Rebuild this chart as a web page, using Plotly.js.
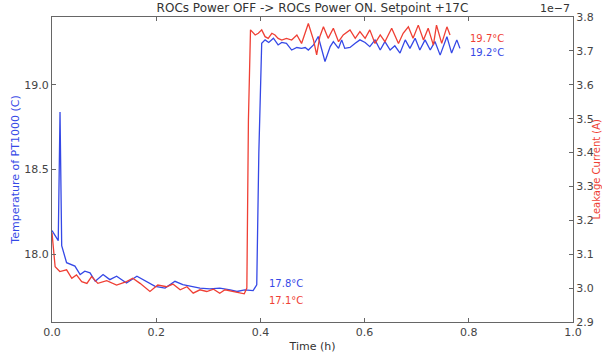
<!DOCTYPE html>
<html>
<head>
<meta charset="utf-8">
<script src="https://cdn.plot.ly/plotly-3.0.1.min.js"></script>
<style>html,body{margin:0;padding:0;background:#fff;}#chart{width:602px;height:358px;}</style>
</head>
<body>
<div id="chart"></div>
<script>
// Temperature of PT1000 (C) vs time (h)
const tempTime = [0.000,0.012,0.0154,0.0186,0.028,0.038,0.044,0.054,0.063,0.073,0.083,0.098,0.111,0.124,0.143,0.163,0.182,0.198,0.217,0.236,0.251,0.265,0.284,0.303,0.322,0.342,0.355,0.370,0.386,0.393,0.397,0.4025,0.409,0.416,0.425,0.434,0.441,0.450,0.460,0.470,0.479,0.486,0.492,0.502,0.511,0.518,0.524,0.534,0.540,0.550,0.556,0.562,0.572,0.582,0.591,0.601,0.610,0.620,0.630,0.639,0.649,0.658,0.668,0.678,0.687,0.697,0.706,0.716,0.726,0.735,0.745,0.758,0.767,0.777,0.783];
const tempValues = [18.14,18.08,18.84,18.05,17.95,17.935,17.93,17.88,17.90,17.89,17.84,17.88,17.85,17.87,17.83,17.87,17.84,17.81,17.80,17.84,17.82,17.81,17.80,17.795,17.80,17.79,17.78,17.79,17.785,17.82,18.6,19.245,19.265,19.25,19.275,19.235,19.25,19.245,19.205,19.22,19.215,19.22,19.205,19.235,19.285,19.205,19.137,19.225,19.255,19.215,19.265,19.215,19.22,19.245,19.265,19.25,19.225,19.265,19.205,19.255,19.205,19.23,19.187,19.265,19.215,19.275,19.205,19.265,19.205,19.255,19.175,19.284,19.187,19.265,19.215];

// Leakage current (A) vs time (h)
const currentTime = [0.000,0.006,0.015,0.028,0.038,0.047,0.057,0.067,0.076,0.088,0.105,0.124,0.143,0.155,0.169,0.188,0.203,0.220,0.232,0.246,0.259,0.271,0.284,0.297,0.310,0.322,0.332,0.345,0.358,0.369,0.374,0.377,0.381,0.390,0.396,0.4025,0.409,0.415,0.422,0.428,0.434,0.441,0.450,0.460,0.470,0.479,0.492,0.502,0.508,0.514,0.521,0.530,0.540,0.550,0.559,0.572,0.582,0.591,0.601,0.610,0.620,0.630,0.639,0.652,0.665,0.674,0.684,0.693,0.703,0.713,0.722,0.732,0.738,0.748,0.758,0.764];
const currentValues = [3.163e-7,3.063e-7,3.049e-7,3.054e-7,3.029e-7,3.039e-7,3.019e-7,3.014e-7,3.034e-7,3.014e-7,3.022e-7,3.009e-7,3.019e-7,3.029e-7,3.014e-7,2.990e-7,3.009e-7,3.004e-7,3.012e-7,2.995e-7,3.004e-7,2.985e-7,2.995e-7,2.990e-7,2.997e-7,2.985e-7,2.995e-7,2.990e-7,2.987e-7,2.983e-7,3.000e-7,3.496e-7,3.762e-7,3.747e-7,3.752e-7,3.762e-7,3.742e-7,3.737e-7,3.752e-7,3.747e-7,3.737e-7,3.732e-7,3.737e-7,3.732e-7,3.747e-7,3.722e-7,3.781e-7,3.732e-7,3.688e-7,3.742e-7,3.771e-7,3.737e-7,3.767e-7,3.727e-7,3.747e-7,3.762e-7,3.737e-7,3.757e-7,3.737e-7,3.762e-7,3.722e-7,3.747e-7,3.727e-7,3.767e-7,3.722e-7,3.752e-7,3.771e-7,3.737e-7,3.776e-7,3.732e-7,3.767e-7,3.717e-7,3.776e-7,3.722e-7,3.771e-7,3.747e-7];

const xTicks = [0, 0.2, 0.4, 0.6, 0.8, 1.0];
const xTickLabels = ['0.0', '0.2', '0.4', '0.6', '0.8', '1.0'];
const tempTicks = [18.0, 18.5, 19.0];
const tempTickLabels = ['18.0', '18.5', '19.0'];
const currentTicks = [2.9e-7, 3.0e-7, 3.1e-7, 3.2e-7, 3.3e-7, 3.4e-7, 3.5e-7, 3.6e-7, 3.7e-7, 3.8e-7];
const currentTickLabels = ['2.9', '3.0', '3.1', '3.2', '3.3', '3.4', '3.5', '3.6', '3.7', '3.8'];

const BLUE = '#3548e6';
const RED = '#ef3f34';
const FONT = 'DejaVu Sans, sans-serif';
const TICKC = '#444';
const LINEC = '#666';

const traces = [
  {x: tempTime, y: tempValues, type: 'scatter', mode: 'lines', line: {color: BLUE, width: 1.3}, yaxis: 'y', hoverinfo: 'skip'},
  {x: currentTime, y: currentValues, type: 'scatter', mode: 'lines', line: {color: RED, width: 1.3}, yaxis: 'y2', hoverinfo: 'skip'}
];

const axisCommon = {ticks: 'inside', ticklen: 4, tickcolor: LINEC, showline: true, linecolor: LINEC, linewidth: 1, showgrid: false, zeroline: false, tickfont: {family: FONT, size: 11, color: TICKC}};

const layout = {
  width: 602, height: 358,
  margin: {l: 52, r: 29, t: 17, b: 36},
  paper_bgcolor: '#fff', plot_bgcolor: '#fff',
  showlegend: false,
  font: {family: FONT, size: 11, color: TICKC},
  title: {text: 'ROCs Power OFF -> ROCs Power ON. Setpoint +17C', font: {family: FONT, size: 12, color: '#333'}, x: 0.5, xref: 'paper', xanchor: 'center', y: 0.978, yref: 'container', yanchor: 'middle'},
  xaxis: Object.assign({}, axisCommon, {range: [0, 1], tickmode: 'array', tickvals: xTicks, ticktext: xTickLabels, mirror: 'ticks', title: {text: 'Time (h)', font: {family: FONT, size: 11, color: '#333'}, standoff: 4}}),
  yaxis: Object.assign({}, axisCommon, {range: [17.6, 19.4], tickmode: 'array', tickvals: tempTicks, ticktext: tempTickLabels, title: {text: 'Temperature of PT1000 (C)', font: {family: FONT, size: 11, color: BLUE}, standoff: 2}}),
  yaxis2: Object.assign({}, axisCommon, {range: [2.9e-7, 3.8e-7], overlaying: 'y', side: 'right', tickmode: 'array', tickvals: currentTicks, ticktext: currentTickLabels}),
  annotations: [
    {text: 'Leakage Current (A)', textangle: -90, xref: 'paper', yref: 'paper', x: 1.0, xshift: 23, y: 0.5, showarrow: false, font: {family: FONT, size: 10, color: RED}, xanchor: 'center', yanchor: 'middle'},
    {text: '1e\u22127', xref: 'paper', yref: 'paper', x: 1.0, y: 1.0, yshift: 9, xshift: -1, xanchor: 'right', yanchor: 'middle', showarrow: false, font: {family: FONT, size: 11, color: '#333'}},
    {text: '19.7°C', xref: 'x', yref: 'paper', x: 0.798, y: 0.931, xanchor: 'left', yanchor: 'middle', showarrow: false, font: {family: FONT, size: 10, color: RED}},
    {text: '19.2°C', xref: 'x', yref: 'paper', x: 0.798, y: 0.882, xanchor: 'left', yanchor: 'middle', showarrow: false, font: {family: FONT, size: 10, color: BLUE}},
    {text: '17.8°C', xref: 'x', yref: 'paper', x: 0.413, y: 0.125, xanchor: 'left', yanchor: 'middle', showarrow: false, font: {family: FONT, size: 10, color: BLUE}},
    {text: '17.1°C', xref: 'x', yref: 'paper', x: 0.413, y: 0.072, xanchor: 'left', yanchor: 'middle', showarrow: false, font: {family: FONT, size: 10, color: RED}}
  ]
};

Plotly.newPlot('chart', traces, layout, {staticPlot: true, displayModeBar: false});
</script>
</body>
</html>
